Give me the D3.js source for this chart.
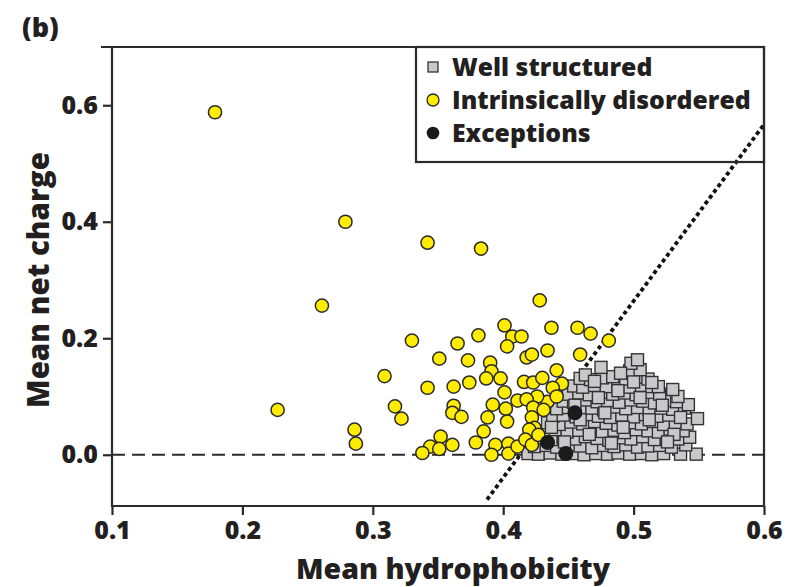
<meta charset="utf-8">
<title>Mean net charge vs mean hydrophobicity</title>
<style>
  body { margin: 0; background: #fff; }
  text { font-family: "Open Sans", "Noto Sans", sans-serif; font-weight: 800; fill: #231f20; }
</style>
<svg width="807" height="587"></svg>
<script src="https://d3js.org/d3.v7.min.js"></script>
<script>

// ---- data ----
var xTicks = [0.1, 0.2, 0.3, 0.4, 0.5, 0.6];
var yTicks = [0.0, 0.2, 0.4, 0.6];

// well structured proteins (grey squares) [hydrophobicity, net charge]
var wellStructured = [
  [0.419,0.002],[0.427,0.001],[0.436,0.003],[0.445,0.001],[0.454,0.002],[0.462,0.000],[0.471,0.002],[0.480,0.001],
  [0.488,0.003],[0.497,0.001],[0.506,0.002],[0.514,0.000],[0.523,0.002],[0.536,0.001],[0.548,0.001],
  [0.424,0.014],[0.433,0.016],[0.441,0.013],[0.451,0.017],[0.459,0.015],[0.468,0.012],[0.477,0.016],[0.485,0.014],
  [0.494,0.017],[0.503,0.013],[0.511,0.015],[0.520,0.016],[0.529,0.013],[0.540,0.017],
  [0.428,0.029],[0.437,0.026],[0.446,0.030],[0.455,0.027],[0.463,0.031],[0.472,0.028],[0.481,0.025],[0.490,0.029],
  [0.498,0.027],[0.507,0.031],[0.516,0.026],[0.525,0.029],[0.534,0.027],[0.543,0.030],
  [0.431,0.040],[0.440,0.043],[0.449,0.039],[0.458,0.042],[0.467,0.044],[0.476,0.040],[0.485,0.042],[0.493,0.038],
  [0.502,0.043],[0.511,0.041],[0.519,0.039],[0.528,0.044],[0.538,0.041],
  [0.434,0.055],[0.443,0.052],[0.452,0.056],[0.461,0.053],[0.470,0.057],[0.479,0.054],[0.488,0.051],[0.497,0.055],
  [0.506,0.053],[0.515,0.057],[0.523,0.052],[0.532,0.055],[0.541,0.053],
  [0.438,0.066],[0.446,0.068],[0.456,0.065],[0.465,0.069],[0.473,0.066],[0.482,0.064],[0.491,0.068],[0.500,0.065],
  [0.509,0.069],[0.518,0.066],[0.527,0.068],[0.549,0.062],
  [0.441,0.079],[0.450,0.081],[0.459,0.078],[0.468,0.080],[0.477,0.077],[0.486,0.082],[0.494,0.079],[0.503,0.081],
  [0.512,0.077],[0.521,0.080],[0.530,0.078],[0.539,0.080],
  [0.446,0.092],[0.454,0.090],[0.463,0.094],[0.472,0.091],[0.480,0.093],[0.489,0.090],[0.498,0.094],[0.507,0.092],
  [0.516,0.089],[0.524,0.093],[0.533,0.091],[0.542,0.086],
  [0.450,0.104],[0.458,0.106],[0.466,0.103],[0.475,0.107],[0.484,0.104],[0.493,0.106],[0.502,0.103],[0.511,0.107],
  [0.520,0.104],[0.534,0.100],
  [0.454,0.118],[0.461,0.116],[0.470,0.119],[0.479,0.117],[0.488,0.120],[0.497,0.116],[0.506,0.119],[0.514,0.117],
  [0.519,0.117],[0.530,0.112],
  [0.459,0.131],[0.467,0.129],[0.476,0.132],[0.484,0.134],[0.494,0.130],[0.503,0.133],[0.511,0.130],
  [0.463,0.137],[0.475,0.150],[0.497,0.144],[0.505,0.146],[0.498,0.157],[0.503,0.163],
  [0.447,0.022],[0.466,0.035],[0.492,0.047],[0.512,0.060],[0.478,0.072],[0.455,0.085],[0.505,0.098],[0.488,0.110],
  [0.470,0.126],[0.522,0.085],[0.536,0.064],[0.531,0.035],[0.459,0.060],[0.483,0.020],[0.500,0.125],[0.514,0.124],
  [0.437,0.047],[0.526,0.022],[0.473,0.098],[0.490,0.140]
];

// intrinsically disordered proteins (yellow circles)
var disordered = [
  [0.179,0.588],[0.279,0.400],[0.342,0.364],[0.383,0.354],[0.261,0.256],[0.428,0.265],[0.227,0.077],
  [0.330,0.196],[0.309,0.135],[0.317,0.083],[0.322,0.062],[0.286,0.043],[0.287,0.019],
  [0.365,0.191],[0.381,0.205],[0.401,0.222],[0.407,0.203],[0.414,0.203],[0.403,0.186],[0.351,0.165],
  [0.373,0.162],[0.390,0.158],[0.391,0.143],[0.387,0.131],[0.398,0.131],[0.418,0.167],[0.416,0.125],
  [0.342,0.115],[0.362,0.117],[0.374,0.124],[0.401,0.107],[0.392,0.086],[0.411,0.093],[0.362,0.084],
  [0.361,0.072],[0.368,0.065],[0.402,0.079],[0.388,0.064],[0.403,0.057],[0.385,0.040],[0.352,0.031],
  [0.344,0.014],[0.338,0.003],[0.351,0.010],[0.361,0.017],[0.379,0.021],[0.394,0.017],[0.391,0.000],
  [0.404,0.019],[0.404,0.002],[0.411,0.014],[0.437,0.218],[0.457,0.218],[0.422,0.172],[0.434,0.179],
  [0.459,0.172],[0.423,0.124],[0.430,0.132],[0.441,0.145],[0.445,0.122],[0.438,0.115],[0.434,0.091],
  [0.426,0.100],[0.418,0.095],[0.423,0.081],[0.431,0.077],[0.422,0.064],[0.424,0.046],[0.420,0.043],
  [0.417,0.026],[0.422,0.017],[0.467,0.208],[0.481,0.196],[0.427,0.034],[0.441,0.100]
];

// exceptions (black circles)
var exceptions = [[0.455,0.072],[0.434,0.021],[0.448,0.002]];

// dotted boundary line end points
var boundaryX = [0.3876, 0.6];
var boundaryY = [-0.077, 0.567];

var legendLabels = ["Well structured", "Intrinsically disordered", "Exceptions"];

// ---- drawing ----
var svg = d3.select("svg");

var x = d3.scaleLinear().domain([0.1, 0.6]).range([112, 764]);
var y = d3.scaleLinear().domain([-0.088, 0.7]).range([506, 47]);

var ink = "#2b2b2b";

// frame (top line sticks out like a tick at 0.7)
var frame = svg.append("g").attr("stroke", ink).attr("stroke-width", 2.2).attr("fill", "none");
frame.append("path")
    .attr("d", "M" + (x(0.1) - 11) + "," + y(0.7) + "H" + x(0.6) + "V" + y(-0.088) + "H" + x(0.1) + "V" + y(0.7));

// zero line
svg.append("line")
    .attr("x1", x(0.1)).attr("x2", x(0.6))
    .attr("y1", y(0)).attr("y2", y(0))
    .attr("stroke", ink).attr("stroke-width", 2.2)
    .attr("stroke-dasharray", "13,7");

// axes
var xAxis = svg.append("g")
    .attr("transform", "translate(0," + y(-0.088) + ")")
    .call(d3.axisBottom(x).tickValues(xTicks).tickFormat(d3.format(".1f")).tickSize(9).tickPadding(6));
var yAxis = svg.append("g")
    .attr("transform", "translate(" + x(0.1) + ",0)")
    .call(d3.axisLeft(y).tickValues(yTicks).tickFormat(d3.format(".1f")).tickSize(9).tickPadding(5));

[xAxis, yAxis].forEach(function(g) {
    g.select(".domain").remove();
    g.selectAll(".tick line").attr("stroke", ink).attr("stroke-width", 2.2);
    g.selectAll(".tick text").attr("fill", "#231f20").style("font-size", "25px").style("font-family", "'Open Sans'").style("font-weight", "800");
});

// boundary line
svg.append("line")
    .attr("x1", x(boundaryX[0])).attr("y1", y(boundaryY[0]))
    .attr("x2", x(boundaryX[1])).attr("y2", y(boundaryY[1]))
    .attr("stroke", "#111").attr("stroke-width", 3.8)
    .attr("stroke-dasharray", "4,3.2");

// points
var sq = 12;
svg.append("g").selectAll("rect")
    .data(wellStructured)
    .enter()
    .append("rect")
    .attr("x", function(d) { return x(d[0]) - sq / 2; })
    .attr("y", function(d) { return y(d[1]) - sq / 2; })
    .attr("width", sq).attr("height", sq)
    .attr("fill", "#c9c9cc").attr("stroke", "#333").attr("stroke-width", 1.4);

svg.append("g").selectAll("circle")
    .data(disordered)
    .enter()
    .append("circle")
    .attr("cx", function(d) { return x(d[0]); })
    .attr("cy", function(d) { return y(d[1]); })
    .attr("r", 6.6)
    .attr("fill", "#ffec00").attr("stroke", "#2a2a2a").attr("stroke-width", 1.5);

svg.append("g").selectAll("circle")
    .data(exceptions)
    .enter()
    .append("circle")
    .attr("cx", function(d) { return x(d[0]); })
    .attr("cy", function(d) { return y(d[1]); })
    .attr("r", 7.5)
    .attr("fill", "#1a1a1a");

// legend
var legend = svg.append("g");
legend.append("rect")
    .attr("x", 416).attr("y", y(0.7))
    .attr("width", x(0.6) - 416).attr("height", 162 - y(0.7))
    .attr("fill", "none").attr("stroke", ink).attr("stroke-width", 2.2);

var items = legend.selectAll("g.item")
    .data(legendLabels)
    .enter()
    .append("g")
    .attr("class", "item")
    .attr("transform", function(d, i) { return "translate(433," + (67 + i * 33) + ")"; });

items.each(function(d, i) {
    var g = d3.select(this);
    if (i === 0) {
        g.append("rect").attr("x", -5).attr("y", -5).attr("width", 10).attr("height", 10)
            .attr("fill", "#c9c9cc").attr("stroke", "#333").attr("stroke-width", 1.3);
    } else if (i === 1) {
        g.append("circle").attr("r", 6).attr("fill", "#ffec00").attr("stroke", "#2a2a2a").attr("stroke-width", 1.3);
    } else {
        g.append("circle").attr("r", 6.3).attr("fill", "#1a1a1a");
    }
    g.append("text").attr("x", 19).attr("y", 9).style("font-size", "24.8px").text(d);
});

// titles
svg.append("text")
    .attr("x", 453).attr("y", 579)
    .attr("text-anchor", "middle")
    .style("font-size", "28.5px")
    .text("Mean hydrophobicity");

svg.append("text")
    .attr("transform", "translate(49," + y(0.3) + ") rotate(-90)")
    .attr("text-anchor", "middle")
    .style("font-size", "29.5px")
    .text("Mean net charge");

svg.append("text")
    .attr("x", 22).attr("y", 37)
    .style("font-size", "27px")
    .text("(b)");

</script>
